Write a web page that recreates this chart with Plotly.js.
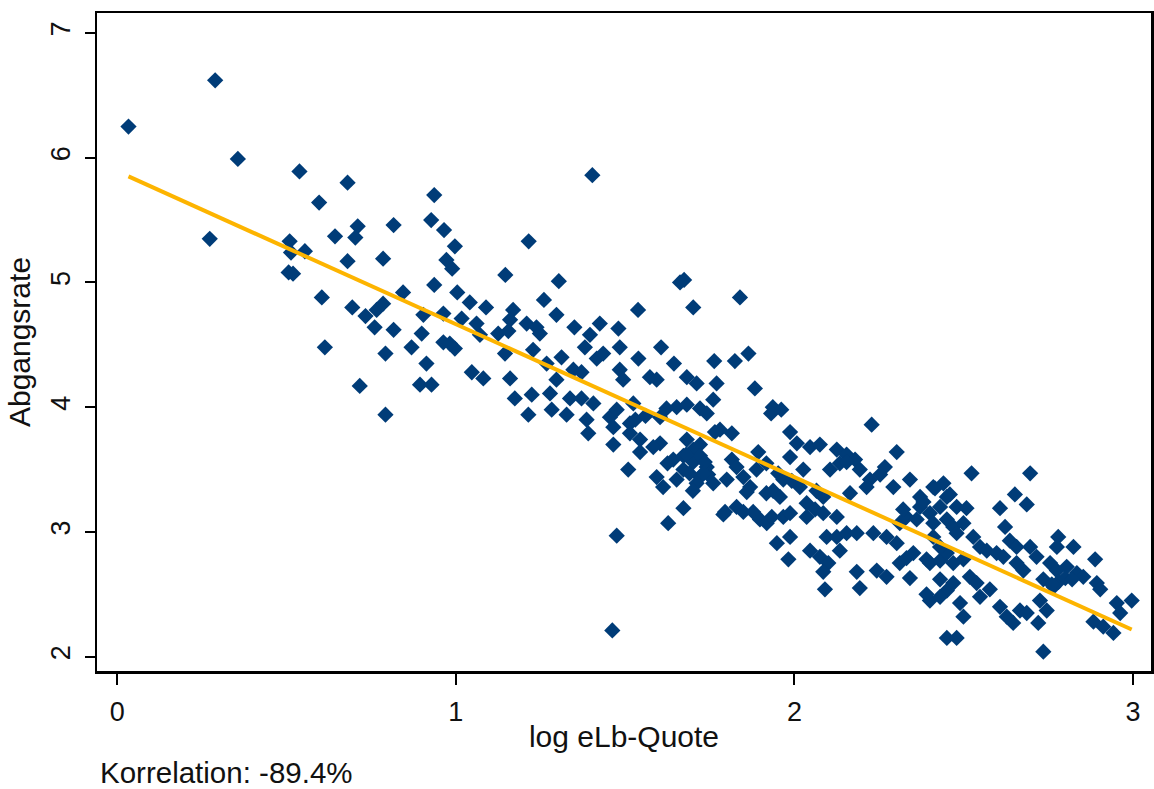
<!DOCTYPE html>
<html>
<head>
<meta charset="utf-8">
<script src="https://cdn.plot.ly/plotly-3.0.1.min.js"></script>
<style>html,body{margin:0;padding:0;background:#fff;}#chart{width:1154px;height:789px;}</style>
</head>
<body>
<div id="chart"></div>
<script>
// log eLb-Quote (x) and Abgangsrate (y), grouped by region
const xLeft = [0.033,0.289,0.356,0.273,0.538,0.680,0.596,0.710,0.816,0.643,
  0.703,0.509,0.513,0.554,0.680,0.785,0.506,0.519,0.604,0.844,
  0.694,0.733,0.766,0.785,0.760,0.816,0.869,0.613,0.792,0.716,
  0.792];
const yLeft = [6.25,6.62,5.99,5.35,5.89,5.80,5.64,5.45,5.46,5.37,
  5.36,5.33,5.24,5.25,5.17,5.19,5.08,5.07,4.88,4.92,
  4.80,4.73,4.78,4.83,4.64,4.62,4.48,4.48,4.43,4.17,
  3.94];

const xMidUpper = [0.936,0.927,0.965,0.997,0.972,0.989,1.403,1.215,1.146,1.304,
  1.674,1.662,0.936,1.004,1.041,1.089,1.260,1.538,1.701,1.169,
  1.160,1.297,0.963,1.017,1.061,0.904,1.209,1.238,1.248,1.350,
  1.425,1.480,1.396,1.381,1.071,1.125,1.155,0.899,0.963,0.997,
  0.982,1.484,1.606,1.228,1.145,0.913,1.312,1.416,1.435,1.539,
  1.644,1.763,1.268,1.347,1.371,1.484,1.494,1.047,1.081,1.160,
  1.297,0.894,0.928,1.573,1.593,1.682,1.711,1.770,1.174,1.224,
  1.278,1.337,1.371,1.406,1.524,1.760,1.622,1.652,1.682,1.721,
  1.741,1.214,1.283,1.327,1.386,1.391,1.455,1.475,1.514,1.465,
  1.603,1.780,1.465,1.544,1.682,1.721,1.603,1.514];
const yMidUpper = [5.70,5.50,5.42,5.29,5.18,5.11,5.86,5.33,5.06,5.01,
  5.02,5.00,4.98,4.92,4.84,4.80,4.86,4.78,4.80,4.78,
  4.70,4.74,4.75,4.71,4.67,4.74,4.67,4.64,4.59,4.64,
  4.67,4.63,4.58,4.48,4.58,4.59,4.61,4.59,4.52,4.47,
  4.51,4.48,4.48,4.46,4.43,4.35,4.40,4.39,4.43,4.39,
  4.35,4.37,4.35,4.30,4.28,4.30,4.22,4.28,4.23,4.23,
  4.22,4.18,4.18,4.24,4.22,4.24,4.19,4.19,4.07,4.10,
  4.11,4.07,4.07,4.03,4.03,4.06,3.99,4.00,4.02,3.99,
  3.95,3.94,3.98,3.94,3.90,3.79,3.92,3.98,3.87,3.84,
  3.92,3.82,3.70,3.74,3.74,3.70,3.71,3.79];

const xMidLower = [1.544,1.583,1.509,1.593,1.612,1.652,1.672,1.642,1.672,1.701,
  1.701,1.721,1.721,1.711,1.760,1.741,1.672,1.627,1.790,1.475,
  1.462,1.839,1.864,1.824,1.690,1.745,1.700,1.680,1.735,1.530,
  1.560,1.625];
const yMidLower = [3.64,3.68,3.50,3.44,3.36,3.42,3.50,3.58,3.61,3.56,
  3.66,3.61,3.44,3.39,3.39,3.52,3.19,3.07,3.14,2.97,
  2.21,4.88,4.43,4.37,3.47,3.46,3.33,3.62,3.56,3.90,
  3.93,3.55];

const xCenter = [1.883,1.936,1.961,1.931,2.228,1.987,1.765,1.815,2.007,2.046,
  2.075,2.125,2.154,2.179,2.302,1.893,1.987,1.815,1.829,1.888,
  1.917,2.026,2.105,2.134,2.154,2.193,2.267,2.253,2.341,2.292,
  2.223,2.213,2.410,2.440,1.731,1.800,1.849,1.869,1.952,1.967,
  1.992,2.016,2.065,2.085,2.164,1.859,1.917,1.937,1.957,2.036,
  2.061,1.795,1.829,1.849,1.878,1.898,1.918,1.933,1.967,1.987,
  1.948,1.987,2.036,2.085,2.125,2.095,2.125,2.154,2.184,2.134,
  2.233,2.272,2.302,2.311,2.331,2.361,2.371,2.400,2.430,2.450,
  2.371,2.321,1.982,2.046,2.075,2.100,2.085,2.090,2.184,2.193,
  2.243,2.272,2.311,2.331,2.351,2.400,2.341,2.430,2.450,2.400,
  2.430,2.430,2.450,2.410,2.430];
const yCenter = [4.15,4.00,3.98,3.95,3.86,3.80,3.80,3.79,3.71,3.68,
  3.70,3.66,3.62,3.58,3.64,3.64,3.60,3.58,3.52,3.50,
  3.55,3.50,3.50,3.55,3.56,3.50,3.52,3.46,3.42,3.36,
  3.42,3.36,3.36,3.39,3.47,3.42,3.44,3.36,3.47,3.42,
  3.41,3.36,3.33,3.28,3.31,3.32,3.31,3.33,3.28,3.23,
  3.18,3.16,3.20,3.16,3.16,3.10,3.07,3.12,3.12,3.15,
  2.91,2.96,3.12,3.15,3.12,2.96,2.96,2.99,2.99,2.85,
  2.99,2.96,2.91,3.07,3.12,3.10,3.20,3.15,3.20,3.28,
  3.28,3.18,2.78,2.85,2.80,2.75,2.68,2.54,2.68,2.55,
  2.69,2.64,2.75,2.79,2.83,2.75,2.63,2.62,2.53,2.45,
  2.48,2.77,2.83,2.96,2.88];

const xRight = [2.523,2.696,2.415,2.459,2.651,2.607,2.686,2.381,2.479,2.508,
  2.410,2.450,2.469,2.499,2.479,2.528,2.548,2.622,2.636,2.656,
  2.779,2.824,2.775,2.696,2.715,2.888,2.568,2.597,2.617,2.390,
  2.469,2.499,2.656,2.676,2.755,2.775,2.804,2.834,2.853,2.893,
  2.903,2.735,2.765,2.469,2.518,2.538,2.548,2.577,2.390,2.607,
  2.627,2.646,2.666,2.686,2.489,2.499,2.725,2.745,2.720,2.735,
  2.450,2.479,2.952,2.962,2.996,2.883,2.912,2.942,2.780,2.800,
  2.760,2.820];
const yRight = [3.47,3.47,3.35,3.30,3.30,3.19,3.22,3.24,3.20,3.19,
  3.07,3.10,3.04,3.07,2.99,2.96,2.88,3.04,2.93,2.88,
  2.96,2.88,2.88,2.88,2.80,2.78,2.85,2.83,2.80,2.78,
  2.75,2.78,2.75,2.69,2.75,2.69,2.72,2.67,2.64,2.59,
  2.54,2.62,2.56,2.59,2.64,2.59,2.48,2.54,2.50,2.40,
  2.32,2.27,2.37,2.35,2.43,2.32,2.45,2.37,2.27,2.04,
  2.15,2.15,2.43,2.35,2.45,2.28,2.24,2.19,2.60,2.63,
  2.58,2.62];

// fitted regression line
const fitIntercept = 5.891;
const fitSlope = -1.226;
const correlationLabel = 'Korrelation: -89.4%';
const xTickVals = [0, 1, 2, 3];
const yTickVals = [2, 3, 4, 5, 6, 7];

const xs = [].concat(xLeft, xMidUpper, xMidLower, xCenter, xRight);
const ys = [].concat(yLeft, yMidUpper, yMidLower, yCenter, yRight);
const xMin = Math.min.apply(null, xs);
const xMax = Math.max.apply(null, xs);
const fitX = [xMin, xMax];
const fitY = fitX.map(v => fitIntercept + fitSlope * v);

const FONT = 'Liberation Sans, Arial, sans-serif';
const TXT = '#111111';

const traces = [
  {
    type: 'scatter', mode: 'markers', x: xs, y: ys,
    marker: {symbol: 'diamond', size: 12.5, color: '#003c78', line: {width: 0}},
    hoverinfo: 'x+y', showlegend: false
  },
  {
    type: 'scatter', mode: 'lines', x: fitX, y: fitY,
    line: {color: '#fdb400', width: 4},
    hoverinfo: 'skip', showlegend: false
  }
];

const layout = {
  width: 1154, height: 789,
  paper_bgcolor: '#ffffff', plot_bgcolor: '#ffffff',
  margin: {l: 97, r: 3, t: 13, b: 118, pad: 0},
  font: {family: FONT, size: 28, color: TXT},
  showlegend: false,
  xaxis: {
    range: [-0.06, 3.053], autorange: false,
    tickvals: xTickVals, ticktext: xTickVals.map(String),
    ticks: 'outside', ticklen: 11, tickwidth: 2, tickcolor: '#000',
    showline: true, linecolor: '#000', linewidth: 2.5, mirror: true,
    showgrid: false, zeroline: false,
    tickfont: {family: FONT, size: 27, color: TXT},
    ticklabelstandoff: 4,
    title: {text: 'log eLb-Quote', font: {family: FONT, size: 30, color: TXT}, standoff: 0},
    automargin: false
  },
  yaxis: {
    range: [1.885, 7.16], autorange: false,
    tickvals: yTickVals, ticktext: yTickVals.map(String),
    tickangle: -90,
    ticks: 'outside', ticklen: 10, tickwidth: 2, tickcolor: '#000',
    showline: true, linecolor: '#000', linewidth: 2.5, mirror: true,
    showgrid: false, zeroline: false,
    tickfont: {family: FONT, size: 27, color: TXT},
    ticklabelstandoff: 4,
    title: {text: 'Abgangsrate', font: {family: FONT, size: 30, color: TXT}, standoff: 6},
    automargin: false
  },
  annotations: [{
    text: correlationLabel, xref: 'paper', yref: 'paper',
    x: 0, y: -0.155, xanchor: 'left', yanchor: 'middle',
    xshift: 1, showarrow: false,
    font: {family: FONT, size: 29.5, color: TXT}
  }]
};

Plotly.newPlot('chart', traces, layout, {displayModeBar: false, staticPlot: true});
</script>
</body>
</html>
